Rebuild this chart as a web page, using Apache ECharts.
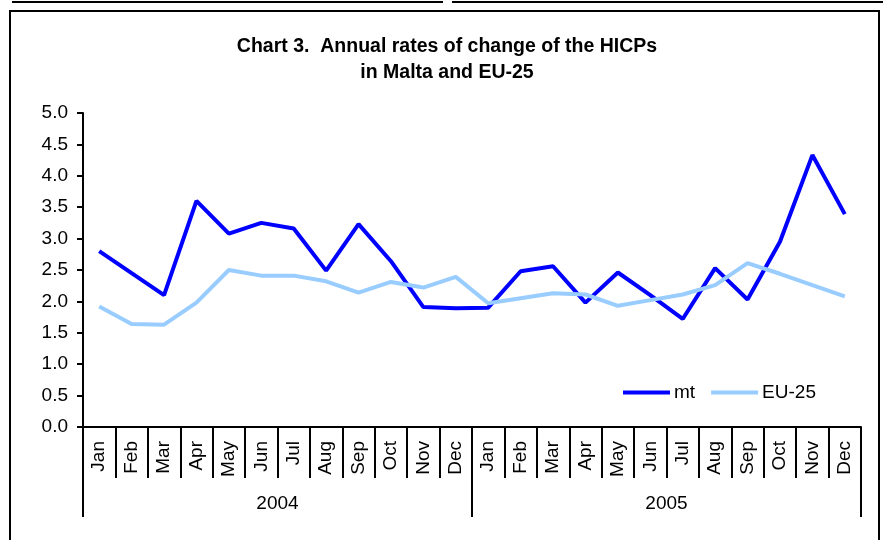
<!DOCTYPE html>
<html>
<head>
<meta charset="utf-8">
<script src="https://cdn.jsdelivr.net/npm/echarts@6/dist/echarts.min.js"></script>
<style>
  html, body { margin: 0; padding: 0; background: #fff; }
  #chart { width: 883px; height: 540px; }
</style>
</head>
<body>
<div id="chart"></div>
<script>
// months, two years
const months = ['Jan','Feb','Mar','Apr','May','Jun','Jul','Aug','Sep','Oct','Nov','Dec',
                'Jan','Feb','Mar','Apr','May','Jun','Jul','Aug','Sep','Oct','Nov','Dec'];
const years = ['2004', '2005'];

// annual rates of change, %
const mt = [2.80, 2.45, 2.10, 3.60, 3.08, 3.25, 3.16, 2.49, 3.23, 2.64, 1.91, 1.89,
            1.90, 2.48, 2.56, 1.98, 2.46, 2.10, 1.72, 2.53, 2.03, 2.95, 4.33, 3.39];
const eu25 = [1.92, 1.64, 1.63, 1.98, 2.50, 2.41, 2.41, 2.32, 2.14, 2.31, 2.22, 2.39,
              1.97, 2.05, 2.13, 2.11, 1.93, 2.02, 2.11, 2.26, 2.61, 2.44, 2.26, 2.08];

const font = 'Liberation Sans, Arial, sans-serif';

const chart = echarts.init(document.getElementById('chart'), null, { renderer: 'canvas' });

const option = {
  animation: false,
  backgroundColor: '#fff',
  textStyle: { fontFamily: font, color: '#000' },
  title: {
    text: 'Chart 3.  Annual rates of change of the HICPs\nin Malta and EU-25',
    left: 447,
    top: 34,
    textAlign: 'center',
    padding: 0,
    textStyle: { fontFamily: font, fontSize: 19.5, fontWeight: 'bold', color: '#000', lineHeight: 26 }
  },
  legend: {
    left: 623,
    top: 383,
    padding: 0,
    icon: 'rect',
    itemWidth: 47,
    itemHeight: 4,
    itemGap: 16,
    textStyle: { fontFamily: font, fontSize: 19, color: '#000', padding: [0, 0, 0, -1] },
    data: ['mt', 'EU-25']
  },
  grid: { left: 83, right: 22, top: 113, bottom: 113, containLabel: false },
  xAxis: [
    {
      type: 'category',
      data: months,
      boundaryGap: true,
      axisLine: { show: true, lineStyle: { color: '#000', width: 2 } },
      axisTick: { show: true, length: 51, interval: 0, lineStyle: { color: '#000', width: 2 } },
      axisLabel: { rotate: 90, interval: 0, margin: 14, fontSize: 19, color: '#000', fontFamily: font },
      splitLine: { show: false }
    },
    {
      type: 'category',
      data: years,
      position: 'bottom',
      boundaryGap: true,
      axisLine: { show: false },
      axisTick: { show: true, length: 90, lineStyle: { color: '#000', width: 2 } },
      axisLabel: { margin: 67, fontSize: 19, color: '#000', fontFamily: font },
      splitLine: { show: false }
    }
  ],
  yAxis: {
    type: 'value',
    min: 0,
    max: 5,
    interval: 0.5,
    axisLine: { show: true, lineStyle: { color: '#000', width: 2 } },
    axisTick: { show: true, length: 6, lineStyle: { color: '#000', width: 2 } },
    axisLabel: {
      margin: 15, fontSize: 19, color: '#000', fontFamily: font,
      formatter: function (v) { return v.toFixed(1); }
    },
    splitLine: { show: false }
  },
  graphic: [
    { type: 'line', shape: { x1: 12, y1: 2, x2: 443, y2: 2 }, style: { stroke: '#000', lineWidth: 2 } },
    { type: 'line', shape: { x1: 452, y1: 2, x2: 883, y2: 2 }, style: { stroke: '#000', lineWidth: 2 } },
    { type: 'rect', shape: { x: 10, y: 11, width: 869, height: 560 }, style: { fill: null, stroke: '#000', lineWidth: 2 } }
  ],
  series: [
    {
      name: 'mt',
      type: 'line',
      data: mt,
      symbol: 'none',
      color: '#0000ff',
      lineStyle: { color: '#0000ff', width: 4 }
    },
    {
      name: 'EU-25',
      type: 'line',
      data: eu25,
      symbol: 'none',
      color: '#99ccff',
      lineStyle: { color: '#99ccff', width: 4 }
    }
  ]
};

chart.setOption(option);
</script>
</body>
</html>
